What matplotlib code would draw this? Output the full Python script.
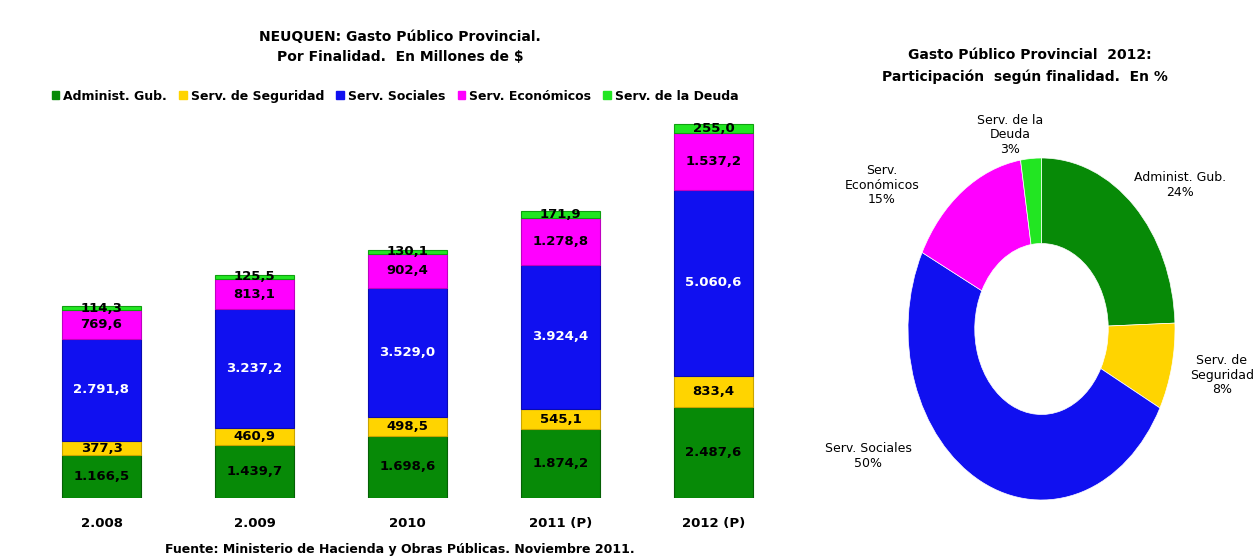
import matplotlib
matplotlib.use("Agg")
import matplotlib.pyplot as plt
from matplotlib.patches import Patch
import numpy as np

years = ["2.008", "2.009", "2010", "2011 (P)", "2012 (P)"]
series_names = ["Administ. Gub.", "Serv. de Seguridad", "Serv. Sociales",
                "Serv. Económicos", "Serv. de la Deuda"]
administ = [1166.5, 1439.7, 1698.6, 1874.2, 2487.6]
seguridad = [377.3, 460.9, 498.5, 545.1, 833.4]
sociales = [2791.8, 3237.2, 3529.0, 3924.4, 5060.6]
economicos = [769.6, 813.1, 902.4, 1278.8, 1537.2]
deuda = [114.3, 125.5, 130.1, 171.9, 255.0]

pie_labels = ["Administ. Gub.\n24%", "Serv. de\nSeguridad\n8%", "Serv. Sociales\n50%",
              "Serv.\nEconómicos\n15%", "Serv. de la\nDeuda\n3%"]

colors = ["#078a07", "#ffd400", "#1010f0", "#ff00ff", "#22e622"]
edge_colors = ["#056005", "#c9a400", "#0a0ab0", "#c000c0", "#10a010"]
text_colors = ["black", "black", "white", "black", "black"]

W, H = 1258, 558
fig = plt.figure(figsize=(W / 100, H / 100), dpi=100)


def fx(px):
    return px / W


def fy(py):
    return 1 - py / H


def fmt(v):
    s = f"{v:,.1f}"
    return s.replace(",", "X").replace(".", ",").replace("X", ".")


# ---- Bar chart ----
ax = fig.add_axes([fx(25), fy(498), fx(790) - fx(25), fy(110) - fy(498)])
series = [administ, seguridad, sociales, economicos, deuda]
x = np.arange(len(years))
bottom = np.zeros(len(years))
for vals, c, ec, tc in zip(series, colors, edge_colors, text_colors):
    vals = np.array(vals)
    ax.bar(x, vals, 0.51, bottom=bottom, color=c, edgecolor=ec, linewidth=0.8)
    for xi, b, v in zip(x, bottom, vals):
        ax.text(xi, b + v / 2, fmt(v), ha="center", va="center", color=tc,
                fontsize=9.5, fontweight="bold")
    bottom += vals
ax.set_xlim(-0.5, 4.5)
ax.set_ylim(0, 10555)
ax.set_xticks(x)
ax.set_xticklabels(years, fontsize=9.5, fontweight="bold")
ax.tick_params(axis="x", length=0, pad=14)
ax.set_yticks([])
for s in ax.spines.values():
    s.set_visible(False)

fig.text(fx(400), fy(37), "NEUQUEN: Gasto Público Provincial.", ha="center", va="center",
         fontsize=10, fontweight="bold")
fig.text(fx(400), fy(57), "Por Finalidad.  En Millones de $", ha="center", va="center",
         fontsize=10, fontweight="bold")
fig.text(fx(400), fy(549), "Fuente: Ministerio de Hacienda y Obras Públicas. Noviembre 2011.",
         ha="center", va="center", fontsize=9, fontweight="bold")

handles = [Patch(facecolor=c, edgecolor=c) for c in colors]
leg = fig.legend(handles, series_names, loc="center", bbox_to_anchor=(fx(395), fy(96)),
                 ncol=5, frameon=False, handlelength=0.6, handleheight=0.6,
                 handletextpad=0.3, columnspacing=1.0,
                 prop={"size": 9, "weight": "bold"})

# ---- Donut chart ----
pie_vals = [administ[-1], seguridad[-1], sociales[-1], economicos[-1], deuda[-1]]
axp = fig.add_axes([fx(908), fy(500), fx(1175) - fx(908), fy(158) - fy(500)])
axp.pie(pie_vals, colors=colors, startangle=90, counterclock=False,
        wedgeprops=dict(width=0.5, edgecolor="white", linewidth=0.5))
axp.set_aspect("auto")
axp.set_xlim(-1, 1)
axp.set_ylim(-1, 1)
axp.axis("off")

pie_label_pos = [(1180, 185), (1222, 375), (868, 456), (882, 185), (1010, 135)]
for lbl, (px, py) in zip(pie_labels, pie_label_pos):
    fig.text(fx(px), fy(py), lbl, ha="center", va="center", fontsize=9,
             linespacing=1.15)

fig.text(fx(1030), fy(55), "Gasto Público Provincial  2012:", ha="center", va="center",
         fontsize=10, fontweight="bold")
fig.text(fx(1025), fy(77), "Participación  según finalidad.  En %", ha="center",
         va="center", fontsize=10, fontweight="bold")

fig.savefig("out.png", dpi=100)
